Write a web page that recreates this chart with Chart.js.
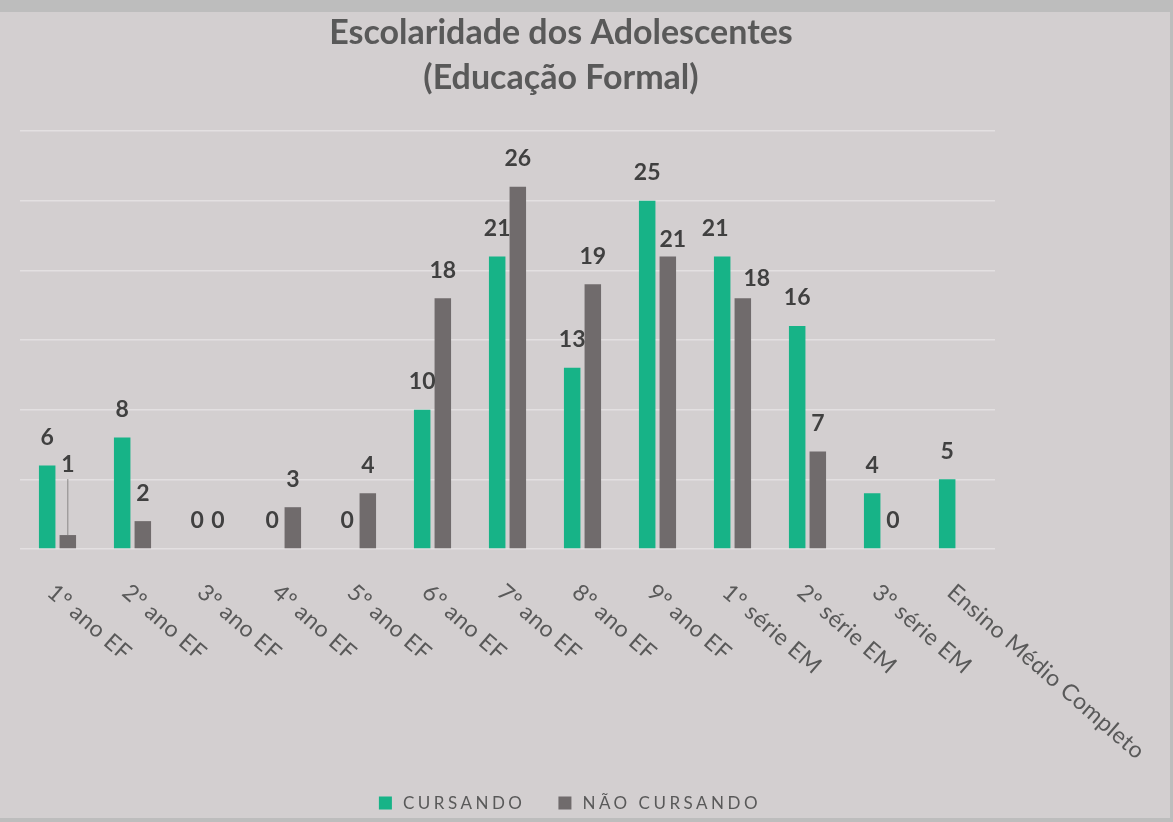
<!DOCTYPE html>
<html lang="pt-BR">
<head>
<meta charset="utf-8">
<title>Escolaridade dos Adolescentes</title>
<script src="https://cdn.jsdelivr.net/npm/chart.js@4.4.1/dist/chart.umd.min.js"></script>
<style>
  html, body { margin: 0; padding: 0; background: #bdbdbd; }
  #wrap { position: absolute; left: 0; top: 12px; width: 1170px; height: 806px; background: #d3cfd0; }
</style>
</head>
<body>
<div id="wrap"><canvas id="myChart"></canvas></div>
<script>
const categories = [
  "1º ano EF", "2º ano EF", "3º ano EF", "4º ano EF", "5º ano EF",
  "6º ano EF", "7º ano EF", "8º ano EF", "9º ano EF",
  "1º série EM", "2º série EM", "3º série EM", "Ensino Médio Completo"
];
const cursando = [6, 8, 0, 0, 0, 10, 21, 13, 25, 21, 16, 4, 5];
const naoCursando = [1, 2, 0, 3, 4, 18, 26, 19, 21, 18, 7, 0, null];
const seriesNames = ["CURSANDO", "NÃO CURSANDO"];
const titleLines = ["Escolaridade dos Adolescentes", "(Educação Formal)"];
const yMax = 30;
const yStep = 5;

const green = "#17b387";
const grey = "#706b6c";
const textGrey = "#595959";

// labels that excel had moved by hand
const labelNudge = {
  "1-0": { dx: 0, dy: -42, leader: true },
  "1-8": { dx: 5, dy: 11 },
  "1-9": { dx: 14, dy: 8 },
  "0-9": { dx: -7, dy: 0 }
};

const valueLabels = {
  id: "valueLabels",
  afterDatasetsDraw(chart) {
    const ctx = chart.ctx;
    ctx.save();
    ctx.font = "bold 23px Lato";
    ctx.fillStyle = "#404040";
    ctx.textAlign = "center";
    ctx.textBaseline = "middle";
    chart.data.datasets.forEach((ds, d) => {
      chart.getDatasetMeta(d).data.forEach((bar, i) => {
        const v = ds.data[i];
        if (v === null) return;
        const n = labelNudge[d + "-" + i] || { dx: 0, dy: 0 };
        const y = bar.y - 28 + n.dy;
        if (n.leader) {
          ctx.strokeStyle = "#8a8686";
          ctx.lineWidth = 1;
          ctx.beginPath();
          ctx.moveTo(bar.x, y + 14);
          ctx.lineTo(bar.x, bar.y);
          ctx.stroke();
        }
        ctx.fillText(String(v), bar.x + n.dx, y);
      });
    });
    ctx.restore();
  }
};

const slantedLabels = {
  id: "slantedLabels",
  afterDraw(chart) {
    const ctx = chart.ctx;
    const xScale = chart.scales.x;
    ctx.save();
    ctx.font = "23px Lato";
    ctx.letterSpacing = "0.5px";
    ctx.fillStyle = textGrey;
    ctx.textAlign = "left";
    ctx.textBaseline = "middle";
    categories.forEach((c, i) => {
      ctx.save();
      ctx.translate(xScale.getPixelForValue(i) - 7, chart.chartArea.bottom + 40);
      ctx.rotate((41 * Math.PI) / 180);
      ctx.fillText(c, 0, 0);
      ctx.restore();
    });
    ctx.restore();
  }
};

const titleAndLegend = {
  id: "titleAndLegend",
  afterDraw(chart) {
    const ctx = chart.ctx;
    ctx.save();
    ctx.font = "bold 34px Lato";
    ctx.fillStyle = textGrey;
    ctx.textAlign = "center";
    ctx.textBaseline = "middle";
    ctx.fillText(titleLines[0], 561, 21);
    ctx.fillText(titleLines[1], 561, 66);

    // legend
    ctx.font = "17px Lato";
    ctx.letterSpacing = "3.5px";
    ctx.textAlign = "left";
    const items = chart.data.datasets.map((ds) => ({
      text: ds.label,
      color: ds.backgroundColor,
      w: ctx.measureText(ds.label).width
    }));
    const box = 13, gap = 11, between = 33;
    let total = 0;
    items.forEach((it, k) => { total += box + gap + it.w + (k ? between : 0); });
    let x = 570 - total / 2;
    const y = 791;
    items.forEach((it) => {
      ctx.fillStyle = it.color;
      ctx.fillRect(x, y - box / 2, box, box);
      ctx.fillStyle = textGrey;
      ctx.fillText(it.text, x + box + gap, y + 1);
      x += box + gap + it.w + between;
    });
    ctx.restore();
  }
};

const ctx = document.getElementById("myChart").getContext("2d");
const myChart = new Chart(ctx, {
  type: "bar",
  data: {
    labels: categories,
    datasets: [
      {
        label: seriesNames[0],
        data: cursando,
        backgroundColor: green,
        categoryPercentage: 0.55,
        barPercentage: 0.8
      },
      {
        label: seriesNames[1],
        data: naoCursando,
        backgroundColor: grey,
        categoryPercentage: 0.55,
        barPercentage: 0.8
      }
    ]
  },
  options: {
    responsive: true,
    maintainAspectRatio: false,
    animation: false,
    layout: {
      padding: { left: 20, right: 175, top: 119, bottom: 0 }
    },
    plugins: {
      legend: { display: false },
      title: { display: false },
      tooltip: { enabled: false }
    },
    scales: {
      x: {
        grid: { display: false },
        border: { display: false },
        ticks: { display: false },
        afterFit(scale) {
          scale.height = 269;
        }
      },
      y: {
        min: 0,
        max: yMax,
        ticks: { stepSize: yStep, display: false },
        grid: { color: "#e3e0e1", lineWidth: 1.5, drawTicks: false },
        border: { display: false },
        afterFit(scale) {
          scale.width = 0;
        }
      }
    }
  },
  plugins: [valueLabels, slantedLabels, titleAndLegend]
});
</script>
</body>
</html>
